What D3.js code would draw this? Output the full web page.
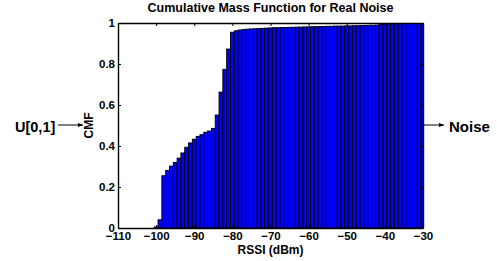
<!DOCTYPE html>
<html>
<head>
<meta charset="utf-8">
<script src="https://cdn.jsdelivr.net/npm/d3@7"></script>
<style>
  body { margin: 0; background: #fff; }
  text { font-family: "Liberation Sans", Arial, sans-serif; font-weight: bold; fill: #000; }
</style>
</head>
<body>
<div id="chart"></div>
<script>
    var fullWidth = 497;
    var fullHeight = 261;
    var margin = {top: 23, right: 74, bottom: 33, left: 118};

    var width = fullWidth - margin.left - margin.right;
    var height = fullHeight - margin.top - margin.bottom;

    // RSSI bins (dBm) and the cumulative mass
    var rssi = [-100, -99, -98, -97, -96, -95, -94, -93, -92, -91,
                -90, -89, -88, -87, -86, -85, -84, -83, -82, -81,
                -80, -79, -78, -77, -76, -75, -74, -73, -72, -71,
                -70, -69, -68, -67, -66, -65, -64, -63, -62, -61,
                -60, -59, -58, -57, -56, -55, -54, -53, -52, -51,
                -50, -49, -48, -47, -46, -45, -44, -43, -42, -41,
                -40, -39, -38, -37, -36, -35, -34, -33, -32, -31, -30];
    var cmf = [0.005, 0.04, 0.255, 0.281, 0.302, 0.320, 0.341, 0.366, 0.394, 0.415,
               0.433, 0.447, 0.455, 0.467, 0.473, 0.486, 0.551, 0.663, 0.774, 0.873,
               0.955, 0.962, 0.966, 0.968, 0.970, 0.971, 0.972, 0.973, 0.974, 0.975,
               0.976, 0.977, 0.977, 0.978, 0.978, 0.979, 0.979, 0.980, 0.980, 0.981,
               0.981, 0.982, 0.982, 0.983, 0.983, 0.984, 0.984, 0.985, 0.985, 0.985,
               0.986, 0.986, 0.987, 0.987, 0.988, 0.988, 0.989, 0.989, 0.990, 0.995,
               0.996, 0.996, 0.997, 0.997, 0.997, 0.998, 0.998, 0.998, 0.999, 0.999, 0.999];
    var xTicks = [-110, -100, -90, -80, -70, -60, -50, -40, -30];
    var yTicks = [0, 0.2, 0.4, 0.6, 0.8, 1];

    var data = rssi.map(function(d, i) { return {rssi: d, cmf: cmf[i]}; });

    var svg = d3.select("#chart")
                .append("svg")
                .attr("width", fullWidth)
                .attr("height", fullHeight);

    var defs = svg.append("defs");
    defs.append("clipPath")
        .attr("id", "plotClip")
        .append("rect")
        .attr("width", width)
        .attr("height", height);

    defs.append("marker")
        .attr("id", "arrow")
        .attr("viewBox", "0 0 10 10")
        .attr("refX", 10)
        .attr("refY", 5)
        .attr("markerWidth", 5)
        .attr("markerHeight", 5)
        .attr("orient", "auto")
        .append("path")
        .attr("d", "M0,1 L10,5 L0,9 Z")
        .attr("fill", "#000");

    var g = svg.append("g")
               .attr("transform", "translate(" + margin.left + "," + margin.top + ")");

    var xScale = d3.scaleLinear().domain([-110, -30]).range([0, width]);
    var yScale = d3.scaleLinear().domain([0, 1]).range([height, 0]);

    g.append("g")
        .attr("class", "bars")
        .attr("clip-path", "url(#plotClip)")
        .selectAll("rect.bar")
        .data(data)
        .enter()
        .append("rect")
        .attr("class", "bar")
        .attr("x", function(d) { return xScale(d.rssi - 0.5); })
        .attr("y", function(d) { return yScale(d.cmf); })
        .attr("width", function(d) { return xScale(d.rssi + 0.5) - xScale(d.rssi - 0.5); })
        .attr("height", function(d) { return height - yScale(d.cmf); })
        .attr("fill", "#0000ff")
        .attr("stroke", "#000")
        .attr("stroke-width", 0.9);

    // MATLAB-like axes: ticks pointing inward, box around the plot
    var xAxis = d3.axisBottom(xScale).tickValues(xTicks).tickSizeInner(-3).tickSizeOuter(0).tickPadding(4);
    var xAxisTop = d3.axisTop(xScale).tickValues(xTicks).tickSizeInner(-3).tickSizeOuter(0).tickFormat("");
    var yAxis = d3.axisLeft(yScale).tickValues(yTicks).tickSizeInner(-3).tickSizeOuter(0).tickPadding(3)
                  .tickFormat(function(d) { return d === 0 || d === 1 ? d : d3.format(".1f")(d); });
    var yAxisRight = d3.axisRight(yScale).tickValues(yTicks).tickSizeInner(-3).tickSizeOuter(0).tickFormat("");

    g.append("g")
        .attr("class", "x-axis")
        .attr("transform", "translate(0," + height + ")")
        .call(xAxis);

    g.append("g").attr("class", "x-axis-top").call(xAxisTop);

    g.append("g")
        .attr("class", "y-axis")
        .call(yAxis);

    g.append("g")
        .attr("class", "y-axis-right")
        .attr("transform", "translate(" + width + ",0)")
        .call(yAxisRight);

    g.selectAll(".domain").attr("stroke", "#000").attr("stroke-width", 1.4);
    g.selectAll(".tick line").attr("stroke", "#000");
    g.selectAll(".tick text")
        .style("font-size", "11.5px")
        .style("font-weight", "bold")
        .style("font-family", "'Liberation Sans', Arial, sans-serif");
    g.select(".y-axis").selectAll(".tick text").attr("dy", "0.28em");

    svg.append("text")
        .attr("x", margin.left + width / 2)
        .attr("y", 12)
        .style("text-anchor", "middle")
        .style("font-size", "12.5px")
        .text("Cumulative Mass Function for Real Noise");

    svg.append("text")
        .attr("x", margin.left + width / 2)
        .attr("y", 254)
        .style("text-anchor", "middle")
        .style("font-size", "12px")
        .text("RSSI (dBm)");

    svg.append("text")
        .attr("transform", "translate(93," + (margin.top + height / 2) + ") rotate(-90)")
        .style("text-anchor", "middle")
        .style("font-size", "12px")
        .text("CMF");

    // annotations
    svg.append("text")
        .attr("x", 15)
        .attr("y", 132)
        .style("font-size", "14.5px")
        .text("U[0,1]");

    svg.append("line")
        .attr("x1", 58).attr("y1", 125)
        .attr("x2", 83).attr("y2", 125)
        .attr("stroke", "#000")
        .attr("stroke-width", 1)
        .attr("marker-end", "url(#arrow)");

    svg.append("line")
        .attr("x1", 424).attr("y1", 125)
        .attr("x2", 444).attr("y2", 125)
        .attr("stroke", "#000")
        .attr("stroke-width", 1)
        .attr("marker-end", "url(#arrow)");

    svg.append("text")
        .attr("x", 449)
        .attr("y", 132)
        .style("font-size", "15px")
        .text("Noise");
</script>
</body>
</html>
